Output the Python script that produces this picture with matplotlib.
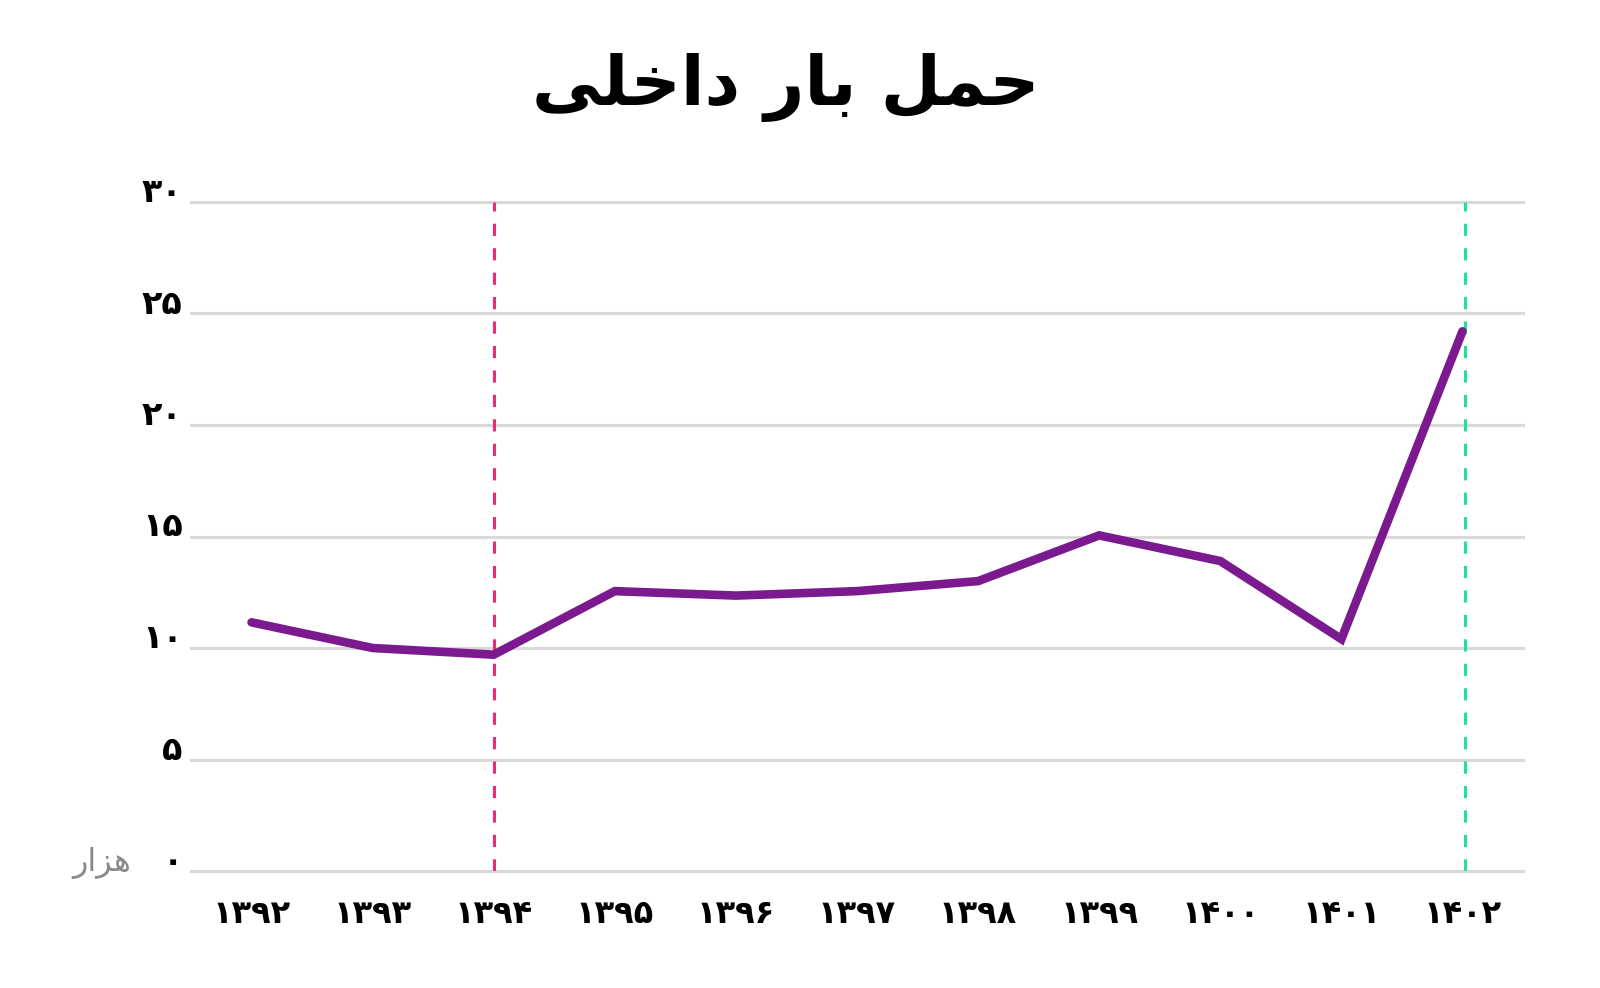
import matplotlib
matplotlib.use('Agg')
import matplotlib.pyplot as plt

years = [1392, 1393, 1394, 1395, 1396, 1397, 1398, 1399, 1400, 1401, 1402]
values = [11.15, 10.0, 9.7, 12.55, 12.35, 12.55, 13.0, 15.05, 13.9, 10.4, 24.2]
yticks = [0, 5, 10, 15, 20, 25, 30]

# persian text written in presentation forms, visual (left to right) order
title = '\uFEF0\uFEE0\uFEA7\uFE8D\uFEA9 \uFEAD\uFE8E\uFE91 \uFEDE\uFEE4\uFEA3'
unit = '\uFEAD\uFE8D\uFEB0\uFEEB'

def fa(n):
    return ''.join(chr(0x06F0 + int(c)) for c in str(n))

plt.rcParams['font.family'] = ['DejaVu Sans']

W, H = 1600, 988
fig = plt.figure(figsize=(16, 9.88), dpi=100)
ax = fig.add_axes([191 / W, 1 - 871 / H, (1523 - 191) / W, (871 - 202) / H])

x = list(range(len(years)))
for t in yticks:
    ax.axhline(t, color='#d9d9d9', lw=2.2, clip_on=False, zorder=1)

ax.axvline(2, color='#f0287a', lw=2.2, ls=(0, (4, 4)), zorder=2)
ax.axvline(10.025, color='#1de39a', lw=2.2, ls=(0, (4, 4)), zorder=2)

ax.plot(x, values, color='#7b1a8f', lw=6.2, solid_capstyle='round', solid_joinstyle='miter', zorder=3)

ax.set_xlim(-0.5, 10.5)
ax.set_ylim(0, 30)
ax.set_xticks(x)
ax.set_xticklabels([fa(y) for y in years], fontsize=23, fontweight='bold')
ax.set_yticks(yticks)
ax.set_yticklabels([fa(t) for t in yticks], fontsize=24, fontweight='bold', va='baseline')
ax.tick_params(length=0)
ax.tick_params(axis='y', pad=6)
ax.tick_params(axis='x', pad=20)
for s in ax.spines.values():
    s.set_visible(False)

fig.text(786 / W, 1 - 88 / H, title, ha='center', va='center', fontsize=50, fontweight='bold')
fig.text(102 / W, 1 - 863 / H, unit, ha='center', va='center', fontsize=23, color='#8a8a8a')

fig.savefig('out.png', dpi=100)
